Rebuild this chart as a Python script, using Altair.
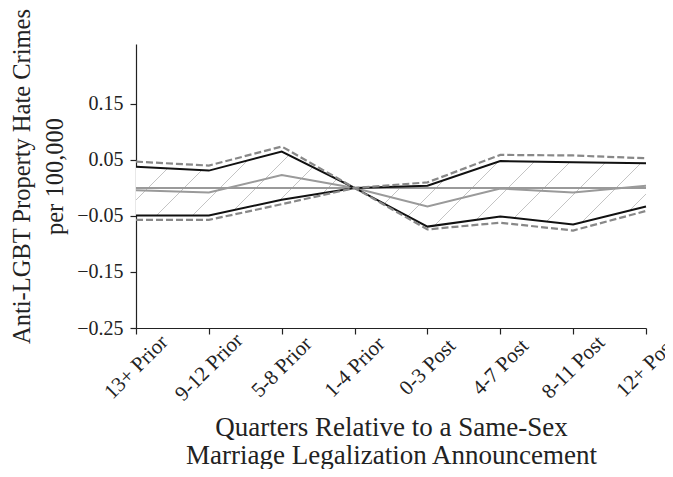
import altair as alt
import pandas as pd

categories = ["13+ Prior", "9-12 Prior", "5-8 Prior", "1-4 Prior",
              "0-3 Post", "4-7 Post", "8-11 Post", "12+ Post"]
estimate = [-0.004, -0.008, 0.023, 0.0, -0.033, -0.001, -0.008, 0.004]
ci_hi = [0.038, 0.031, 0.065, 0.0, 0.004, 0.048, 0.046, 0.044]
ci_lo = [-0.049, -0.049, -0.021, 0.0, -0.069, -0.051, -0.065, -0.033]
band_hi = [0.047, 0.040, 0.074, 0.0, 0.010, 0.059, 0.058, 0.053]
band_lo = [-0.057, -0.057, -0.029, 0.0, -0.074, -0.062, -0.076, -0.041]
y_ticks = [-0.25, -0.15, -0.05, 0.05, 0.15]

df = pd.DataFrame({
    "cat": categories,
    "est": estimate,
    "hi": ci_hi,
    "lo": ci_lo,
    "bhi": band_hi,
    "blo": band_lo,
})

FONT = "Liberation Serif"
Y_MIN, Y_MAX = -0.25, 0.257
PW, PH = 510, 284

# diagonal hatch as a striped linear gradient (style only)
H = (max(ci_hi) - min(ci_lo)) * PH / (Y_MAX - Y_MIN)
W = PW
k = (W + H) / (W ** 2 + H ** 2)
period = 36.0 / (W + H)
lw = 1.3 / (W + H)
stops = [alt.GradientStop(offset=0, color="#ffffff")]
t = 0.02
while t + lw < 1:
    stops += [
        alt.GradientStop(offset=round(t, 5), color="#ffffff"),
        alt.GradientStop(offset=round(t, 5), color="#c4c4c4"),
        alt.GradientStop(offset=round(t + lw, 5), color="#c4c4c4"),
        alt.GradientStop(offset=round(t + lw, 5), color="#ffffff"),
    ]
    t += period
stops.append(alt.GradientStop(offset=1, color="#ffffff"))
hatch = alt.LinearGradient(gradient="linear", stops=stops,
                           x1=0, y1=0, x2=k * W, y2=k * H)

x_enc = alt.X(
    "cat:O", sort=categories, scale=alt.Scale(type="point", padding=0),
    axis=alt.Axis(
        title=["Quarters Relative to a Same-Sex", "Marriage Legalization Announcement"],
        labelAngle=315, labelAlign="center", labelBaseline="middle",
        labelPadding=33, tickSize=6, labelFontSize=21,
        titleX=PW / 2, titleY=99, titleFontSize=27,
        titleBaseline="middle", titleLineHeight=28,
    ),
)
y_scale = alt.Scale(domain=[Y_MIN, Y_MAX], nice=False, zero=False)
y_axis = alt.Axis(
    title=["Anti-LGBT Property Hate Crimes", "per 100,000"],
    values=y_ticks, format=".2f", tickSize=6, labelPadding=7, labelFontSize=20,
    titleAngle=270, titleX=-114, titleY=132, titleAlign="center",
    titleBaseline="middle", titleLineHeight=33, titleFontSize=24.5,
)

base = alt.Chart(df).encode(x=x_enc)

area = base.mark_area(fill=hatch, stroke=None).encode(
    y=alt.Y("lo:Q", scale=y_scale, axis=y_axis), y2="hi:Q")
zero = alt.Chart(df).mark_rule(color="#9a9a9a", strokeWidth=2).encode(y=alt.datum(0))
est = base.mark_line(color="#9a9a9a", strokeWidth=2).encode(y="est:Q")
hi = base.mark_line(color="#111111", strokeWidth=2).encode(y="hi:Q")
lo = base.mark_line(color="#111111", strokeWidth=2).encode(y="lo:Q")
bhi = base.mark_line(color="#888888", strokeWidth=2.2, strokeDash=[7, 3]).encode(y="bhi:Q")
blo = base.mark_line(color="#888888", strokeWidth=2.2, strokeDash=[7, 3]).encode(y="blo:Q")

chart = alt.layer(area, zero, est, hi, lo, bhi, blo).properties(
    width=PW, height=PH,
    autosize=alt.AutoSizeParams(type="none"),
    padding={"left": 128, "top": 36, "right": 19, "bottom": 141},
).configure_view(stroke=None).configure_axis(
    labelFont=FONT, titleFont=FONT,
    labelColor="#222222", titleColor="#222222", titleFontWeight="normal",
    domainColor="#222222", tickColor="#222222", domainWidth=1.2, tickWidth=1.2,
    grid=False,
)

chart.save("out.html", embed_options={"renderer": "svg", "actions": False})
